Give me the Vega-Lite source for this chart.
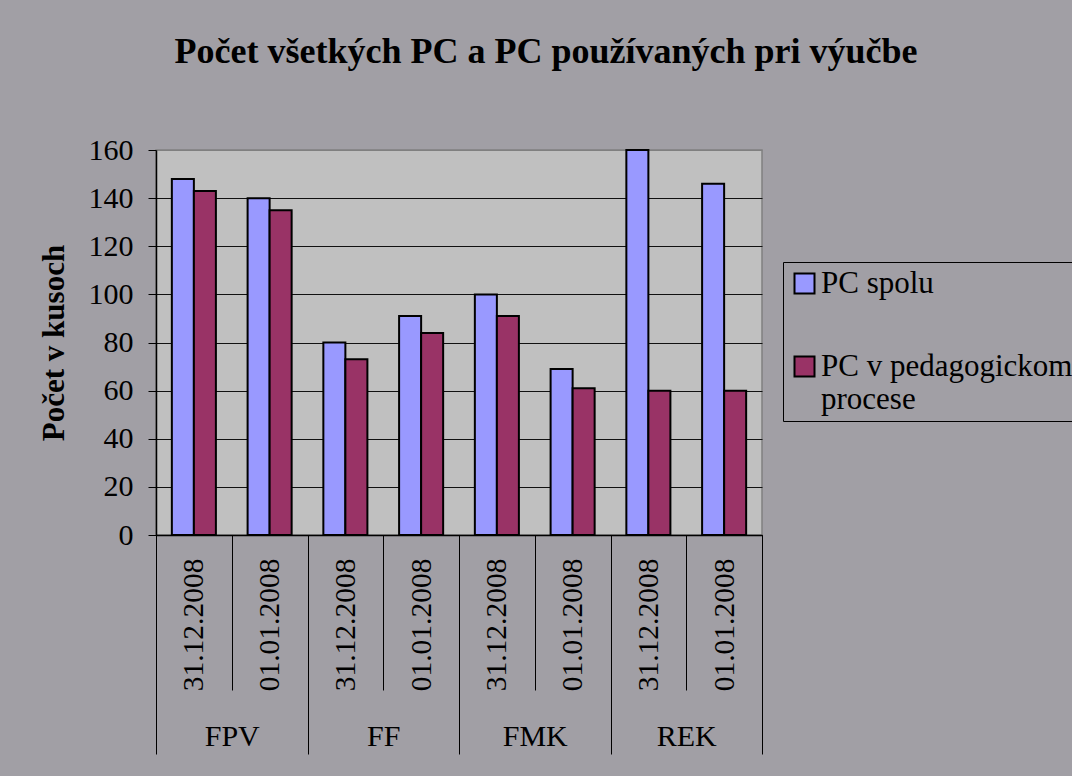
{
  "$schema": "https://vega.github.io/schema/vega-lite/v6.json",
  "width": 606,
  "height": 385,
  "autosize": {"type": "none"},
  "padding": {"left": 156, "top": 150, "right": 310, "bottom": 241},
  "background": "#a19fa5",
  "title": {
    "text": "Počet všetkých PC a PC používaných pri výučbe",
    "font": "Liberation Serif",
    "fontSize": 36,
    "fontWeight": "bold",
    "color": "black",
    "anchor": "middle",
    "frame": "group",
    "dx": 87,
    "baseline": "alphabetic",
    "offset": 36
  },
  "config": {
    "view": {"fill": "#c0c0c0", "stroke": "#808080", "strokeWidth": 1.5},
    "style": {"guide-label": {"lineHeight": 33}}
  },
  "data": {
    "values": [
      {"fakulta": "FPV", "kategoria": "FPV 31.12.2008", "seria": "PC spolu", "pocet": 148},
      {"fakulta": "FPV", "kategoria": "FPV 31.12.2008", "seria": "PC v pedagogickom procese", "pocet": 143},
      {"fakulta": "FPV", "kategoria": "FPV 01.01.2008", "seria": "PC spolu", "pocet": 140},
      {"fakulta": "FPV", "kategoria": "FPV 01.01.2008", "seria": "PC v pedagogickom procese", "pocet": 135},
      {"fakulta": "FF", "kategoria": "FF 31.12.2008", "seria": "PC spolu", "pocet": 80},
      {"fakulta": "FF", "kategoria": "FF 31.12.2008", "seria": "PC v pedagogickom procese", "pocet": 73},
      {"fakulta": "FF", "kategoria": "FF 01.01.2008", "seria": "PC spolu", "pocet": 91},
      {"fakulta": "FF", "kategoria": "FF 01.01.2008", "seria": "PC v pedagogickom procese", "pocet": 84},
      {"fakulta": "FMK", "kategoria": "FMK 31.12.2008", "seria": "PC spolu", "pocet": 100},
      {"fakulta": "FMK", "kategoria": "FMK 31.12.2008", "seria": "PC v pedagogickom procese", "pocet": 91},
      {"fakulta": "FMK", "kategoria": "FMK 01.01.2008", "seria": "PC spolu", "pocet": 69},
      {"fakulta": "FMK", "kategoria": "FMK 01.01.2008", "seria": "PC v pedagogickom procese", "pocet": 61},
      {"fakulta": "REK", "kategoria": "REK 31.12.2008", "seria": "PC spolu", "pocet": 160},
      {"fakulta": "REK", "kategoria": "REK 31.12.2008", "seria": "PC v pedagogickom procese", "pocet": 60},
      {"fakulta": "REK", "kategoria": "REK 01.01.2008", "seria": "PC spolu", "pocet": 146},
      {"fakulta": "REK", "kategoria": "REK 01.01.2008", "seria": "PC v pedagogickom procese", "pocet": 60}
    ]
  },
  "resolve": {"scale": {"x": "independent"}, "axis": {"x": "independent"}},
  "layer": [
    {
      "mark": {"type": "bar", "stroke": "black", "strokeWidth": 2},
      "encoding": {
        "x": {
          "field": "kategoria",
          "type": "nominal",
          "sort": null,
          "scale": {"paddingInner": 0, "paddingOuter": 0},
          "axis": {
            "orient": "bottom",
            "title": null,
            "tickBand": "extent",
            "tickSize": 155,
            "tickColor": "black",
            "tickWidth": 1,
            "domainColor": "black",
            "domainWidth": 1.5,
            "labelAngle": 270,
            "labelAlign": "right",
            "labelBaseline": "middle",
            "labelPadding": -132,
            "labelFont": "Liberation Serif",
            "labelFontSize": 29.5,
            "labelColor": "black",
            "labelOverlap": false,
            "labelExpr": "split(datum.label, ' ')[1]"
          }
        },
        "xOffset": {
          "field": "seria",
          "type": "nominal",
          "sort": ["PC spolu", "PC v pedagogickom procese"],
          "scale": {"paddingInner": 0, "paddingOuter": 0.72}
        },
        "y": {
          "field": "pocet",
          "type": "quantitative",
          "scale": {"domain": [0, 160], "nice": false},
          "axis": {
            "title": "Počet v kusoch",
            "titleFont": "Liberation Serif",
            "titleFontSize": 31,
            "titleFontWeight": "bold",
            "titleColor": "black",
            "titlePadding": 18,
            "values": [0, 20, 40, 60, 80, 100, 120, 140, 160],
            "labelFont": "Liberation Serif",
            "labelFontSize": 30,
            "labelColor": "black",
            "labelPadding": 15,
            "labelFlush": false,
            "tickSize": 8,
            "tickColor": "black",
            "domainColor": "black",
            "domainWidth": 1.5,
            "grid": true,
            "gridColor": {"condition": {"test": "datum.value == 160", "value": "#808080"}, "value": "#111111"},
            "gridWidth": 1
          }
        },
        "color": {
          "field": "seria",
          "type": "nominal",
          "scale": {"domain": ["PC spolu", "PC v pedagogickom procese"], "range": ["#9999ff", "#993366"]},
          "legend": {
            "orient": "none",
            "legendX": 627,
            "legendY": 112,
            "title": null,
            "direction": "vertical",
            "symbolType": "square",
            "symbolSize": 400,
            "symbolStrokeColor": "black",
            "symbolStrokeWidth": 2,
            "labelFont": "Liberation Serif",
            "labelFontSize": 31,
            "labelColor": "black",
            "labelLimit": 600,
            "labelOffset": 1,
            "padding": 6,
            "rowPadding": 51,
            "strokeColor": "black",
            "labelExpr": "datum.label == 'PC v pedagogickom procese' ? ['PC v pedagogickom', 'procese'] : datum.label"
          }
        }
      }
    },
    {
      "mark": {"type": "text", "text": ""},
      "encoding": {
        "x": {
          "field": "fakulta",
          "type": "nominal",
          "sort": null,
          "scale": {"type": "band", "paddingInner": 0, "paddingOuter": 0},
          "axis": {
            "orient": "bottom",
            "title": null,
            "tickBand": "extent",
            "tickSize": 219,
            "tickColor": "black",
            "tickWidth": 1,
            "domain": false,
            "labelAngle": 0,
            "labelAlign": "center",
            "labelBaseline": "alphabetic",
            "labelPadding": -9,
            "labelFont": "Liberation Serif",
            "labelFontSize": 30,
            "labelColor": "black"
          }
        }
      }
    }
  ]
}
